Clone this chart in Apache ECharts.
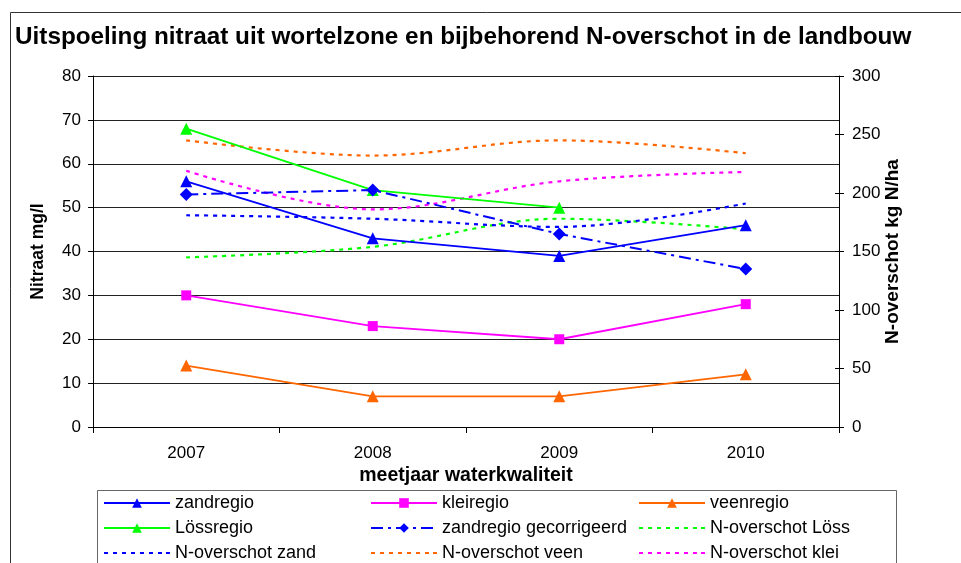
<!DOCTYPE html>
<html>
<head>
<meta charset="utf-8">
<script src="https://cdn.jsdelivr.net/npm/echarts@6/dist/echarts.min.js"></script>
<style>
html,body{margin:0;padding:0;background:#fff;}
#chart{width:961px;height:563px;}
</style>
</head>
<body>
<div id="chart"></div>
<script>
var years = ['2007', '2008', '2009', '2010'];
var zandregio = [56, 43, 39, 46];
var kleiregio = [30, 23, 20, 28];
var veenregio = [14, 7, 7, 12];
var lossregio = [68, 54, 50, null];
var zandregioGecorrigeerd = [53, 54, 44, 36];
var nOverschotLoss = [145, 154, 178, 169];
var nOverschotZand = [181, 178, 171, 191];
var nOverschotVeen = [245, 232, 245, 234];
var nOverschotKlei = [219, 186, 210, 218];
var leftTicks = [0, 80, 10];
var rightTicks = [0, 300, 50];

var FONT = '"Liberation Sans", Arial, sans-serif';
var chart = echarts.init(document.getElementById('chart'), null, {renderer: 'canvas'});

// dotted legend icon: short bars across the icon box
var DOT_ICON = 'path://M0,0h0.01v0.01h-0.01z M66,12h0.01v0.01h-0.01z' +
  ' M0,5h4v2h-4z M9,5h4v2h-4z M18,5h4v2h-4z M27,5h4v2h-4z M36,5h4v2h-4z M45,5h4v2h-4z M54,5h4v2h-4z M62,5h4v2h-4z';

function solid(name, data, color, symbol, size) {
  return {
    name: name, type: 'line', data: data, yAxisIndex: 0,
    symbol: symbol, symbolSize: size, showSymbol: true,
    lineStyle: {color: color, width: 1.8, type: 'solid'},
    itemStyle: {color: color},
    connectNulls: false, animation: false, z: 5
  };
}
function dotted(name, data, color) {
  return {
    name: name, type: 'line', data: data, yAxisIndex: 1,
    symbol: 'none', smooth: 0.35,
    lineStyle: {color: color, width: 2.2, type: [4, 5]},
    itemStyle: {color: color},
    animation: false, z: 3
  };
}
function li(name) { return {name: name}; }
function ld(name) { return {name: name, icon: DOT_ICON}; }

var legendCommon = {
  orient: 'vertical', top: 493, itemWidth: 66, itemHeight: 12, itemGap: 5,
  symbolKeepAspect: true,
  textStyle: {fontFamily: FONT, fontSize: 18, color: '#000', lineHeight: 20},
  padding: 0, selectedMode: false
};

var option = {
  backgroundColor: '#fff',
  animation: false,
  title: {
    text: 'Uitspoeling nitraat uit wortelzone en bijbehorend N-overschot in de landbouw',
    left: 15, top: 25, padding: 0,
    textStyle: {fontFamily: FONT, fontSize: 24.3, fontWeight: 'bold', color: '#000'}
  },
  graphic: [
    {type: 'rect', shape: {x: 10.5, y: 12.5, width: 1000, height: 600},
     style: {fill: null, stroke: '#333', lineWidth: 1}, z: -10, silent: true},
    {type: 'rect', shape: {x: 97.5, y: 490.5, width: 799, height: 100},
     style: {fill: '#fff', stroke: '#666', lineWidth: 1}, z: -5, silent: true}
  ],
  legend: [
    Object.assign({left: 103, data: [li('zandregio'), li('Lössregio'), ld('N-overschot zand')]}, legendCommon),
    Object.assign({left: 370, data: [li('kleiregio'), li('zandregio gecorrigeerd'), ld('N-overschot veen')]}, legendCommon),
    Object.assign({left: 638, data: [li('veenregio'), ld('N-overschot Löss'), ld('N-overschot klei')]}, legendCommon)
  ],
  grid: {left: 93, right: 122, top: 76, bottom: 136, containLabel: false},
  xAxis: {
    type: 'category', data: years, boundaryGap: true,
    name: 'meetjaar waterkwaliteit', nameLocation: 'middle', nameGap: 39, nameMoveOverlap: false,
    nameTextStyle: {fontFamily: FONT, fontSize: 19.5, fontWeight: 'bold', color: '#000'},
    axisLine: {lineStyle: {color: '#000', width: 1}},
    axisTick: {show: true, alignWithLabel: false, length: 6, lineStyle: {color: '#000'}},
    axisLabel: {fontFamily: FONT, fontSize: 17, color: '#000', margin: 18},
    splitLine: {show: false}
  },
  yAxis: [
    {
      type: 'value', position: 'left', min: leftTicks[0], max: leftTicks[1], interval: leftTicks[2],
      name: 'Nitraat mg/l', nameLocation: 'middle', nameRotate: 90, nameGap: 46, nameMoveOverlap: false,
      nameTextStyle: {fontFamily: FONT, fontSize: 17.5, fontWeight: 'bold', color: '#000'},
      axisLine: {show: true, lineStyle: {color: '#000', width: 1}},
      axisTick: {show: true, inside: false, length: 5, lineStyle: {color: '#000'}},
      axisLabel: {fontFamily: FONT, fontSize: 17, color: '#000', margin: 12},
      splitLine: {show: true, lineStyle: {color: '#222', width: 1}}
    },
    {
      type: 'value', position: 'right', min: rightTicks[0], max: rightTicks[1], interval: rightTicks[2],
      name: 'N-overschot kg N/ha', nameLocation: 'middle', nameRotate: 90, nameGap: 44, nameMoveOverlap: false,
      nameTextStyle: {fontFamily: FONT, fontSize: 19, fontWeight: 'bold', color: '#000'},
      axisLine: {show: true, lineStyle: {color: '#000', width: 1}},
      axisTick: {show: true, inside: false, length: 5, lineStyle: {color: '#000'}},
      axisLabel: {fontFamily: FONT, fontSize: 17, color: '#000', margin: 13},
      splitLine: {show: false}
    },
    {
      type: 'value', position: 'right', min: rightTicks[0], max: rightTicks[1], interval: rightTicks[2],
      axisLine: {show: false},
      axisTick: {show: true, inside: true, length: 4, lineStyle: {color: '#000'}},
      axisLabel: {show: false},
      splitLine: {show: false}
    }
  ],
  series: [
    dotted('N-overschot Löss', nOverschotLoss, '#00FF00'),
    dotted('N-overschot zand', nOverschotZand, '#0000FF'),
    dotted('N-overschot veen', nOverschotVeen, '#FF6600'),
    dotted('N-overschot klei', nOverschotKlei, '#FF00FF'),
    solid('zandregio', zandregio, '#0000FF', 'triangle', 12),
    solid('kleiregio', kleiregio, '#FF00FF', 'rect', 10),
    solid('veenregio', veenregio, '#FF6600', 'triangle', 12),
    solid('Lössregio', lossregio, '#00FF00', 'triangle', 12),
    {
      name: 'zandregio gecorrigeerd', type: 'line', data: zandregioGecorrigeerd, yAxisIndex: 0,
      symbol: 'diamond', symbolSize: 13,
      lineStyle: {color: '#0000FF', width: 2, type: [12, 5, 3, 5]},
      itemStyle: {color: '#0000FF'}, animation: false, z: 6
    }
  ]
};
chart.setOption(option);
</script>
</body>
</html>
